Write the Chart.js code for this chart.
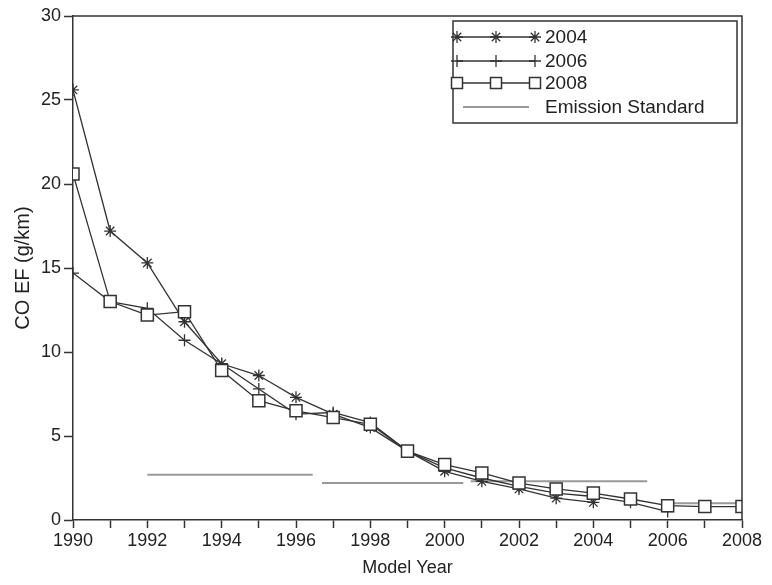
<!DOCTYPE html>
<html>
<head>
<meta charset="utf-8">
<script src="https://cdn.jsdelivr.net/npm/chart.js@4/dist/chart.umd.min.js"></script>
<style>
html,body{margin:0;padding:0;background:#fff;}
#wrap{width:772px;height:585px;position:relative;}
</style>
</head>
<body>
<div id="wrap"><canvas id="c" width="772" height="585"></canvas></div>
<script>
// ---- Data ----
const years2004 = [1990,1991,1992,1993,1994,1995,1996,1997,1998,1999,2000,2001,2002,2003,2004];
const values2004 = [25.6,17.2,15.3,11.8,9.3,8.6,7.3,6.3,5.5,4.1,2.9,2.3,1.85,1.3,1.05];

const years2006 = [1990,1991,1992,1993,1994,1995,1996,1997,1998,1999,2000,2001,2002,2003,2004,2005,2006];
const values2006 = [14.7,13.0,12.6,10.7,9.3,7.8,6.3,6.4,5.8,4.1,3.1,2.5,2.0,1.6,1.4,1.05,0.5];

const years2008 = [1990,1991,1992,1993,1994,1995,1996,1997,1998,1999,2000,2001,2002,2003,2004,2005,2006,2007,2008];
const values2008 = [20.6,13.0,12.2,12.4,8.9,7.1,6.5,6.1,5.7,4.1,3.3,2.8,2.2,1.85,1.6,1.25,0.85,0.8,0.8];

const stdStart = [1992.0, 1996.7, 2000.7, 2006.0];
const stdEnd   = [1996.45, 2000.5, 2005.45, 2008.0];
const stdLevel = [2.7, 2.2, 2.3, 1.0];

const xTicks = [1990,1992,1994,1996,1998,2000,2002,2004,2006,2008];
const yTicks = [0,5,10,15,20,25,30];

const seriesNames = ['2004','2006','2008','Emission Standard'];

// ---- Build ----
const pts = (xs, ys) => xs.map((x,i)=>({x:x, y:ys[i]}));
const stdPts = [];
stdStart.forEach((s,i)=>{
  stdPts.push({x:s, y:stdLevel[i]});
  stdPts.push({x:stdEnd[i], y:stdLevel[i]});
  if (i < stdStart.length-1) stdPts.push({x:(stdEnd[i]+stdStart[i+1])/2, y:null});
});

const LINE = '#333333';
const TXT = '#222222';
const FONT = 'Liberation Sans, Arial, sans-serif';

function drawMarker(ctx, style, x, y) {
  ctx.save();
  ctx.strokeStyle = LINE;
  ctx.lineWidth = 1.3;
  if (style === 'star') {
    const r = 6;
    ctx.beginPath();
    ctx.moveTo(x, y-r); ctx.lineTo(x, y+r);
    ctx.moveTo(x-r, y); ctx.lineTo(x+r, y);
    const d = r*0.707;
    ctx.moveTo(x-d, y-d); ctx.lineTo(x+d, y+d);
    ctx.moveTo(x-d, y+d); ctx.lineTo(x+d, y-d);
    ctx.stroke();
  } else if (style === 'cross') {
    const r = 6;
    ctx.beginPath();
    ctx.moveTo(x, y-r); ctx.lineTo(x, y+r);
    ctx.moveTo(x-r, y); ctx.lineTo(x+r, y);
    ctx.stroke();
  } else if (style === 'rect') {
    const s = 5.5;
    ctx.fillStyle = '#fff';
    ctx.lineWidth = 1.5;
    ctx.fillRect(x-s, y-s, 2*s, 2*s);
    ctx.strokeRect(x-s, y-s, 2*s, 2*s);
  }
  ctx.restore();
}

const framePlugin = {
  id: 'frame',
  afterDatasetsDraw(chart) {
    const {ctx, chartArea: a} = chart;
    ctx.save();
    ctx.strokeStyle = LINE;
    ctx.lineWidth = 1.5;
    ctx.beginPath();
    ctx.moveTo(a.left, a.top); ctx.lineTo(a.right, a.top); ctx.lineTo(a.right, a.bottom);
    ctx.stroke();
    ctx.restore();
  },
  afterDraw(chart) {
    const {ctx, chartArea: a} = chart;
    const bx = a.right - 289, by = a.top + 5, bw = 284, bh = 102;
    ctx.save();
    ctx.fillStyle = '#fff';
    ctx.fillRect(bx, by, bw, bh);
    ctx.strokeStyle = LINE;
    ctx.lineWidth = 1.5;
    ctx.strokeRect(bx, by, bw, bh);
    const rows = [16, 40, 62, 86];
    const styles = ['star','cross','rect', null];
    ctx.font = '19px ' + FONT;
    ctx.textBaseline = 'middle';
    ctx.fillStyle = TXT;
    rows.forEach((ry, i) => {
      const y = by + ry;
      const x0 = bx + 4, x1 = bx + 82;
      ctx.beginPath();
      if (styles[i]) {
        ctx.strokeStyle = LINE; ctx.lineWidth = 1.3;
        ctx.moveTo(x0, y); ctx.lineTo(x1, y);
        ctx.stroke();
        [x0, (x0+x1)/2, x1].forEach(px => drawMarker(ctx, styles[i], px, y));
      } else {
        ctx.strokeStyle = '#999'; ctx.lineWidth = 2;
        ctx.moveTo(bx + 10, y); ctx.lineTo(bx + 76, y);
        ctx.stroke();
      }
      ctx.fillText(seriesNames[i], bx + 92, y + 1);
    });
    ctx.restore();
  }
};

new Chart(document.getElementById('c'), {
  type: 'line',
  data: {
    datasets: [
      { label: seriesNames[3], data: stdPts, borderColor: '#999999', borderWidth: 2,
        pointRadius: 0, spanGaps: false, order: 3 },
      { label: seriesNames[1], data: pts(years2006, values2006), borderColor: LINE, borderWidth: 1.3,
        pointStyle: 'cross', pointRadius: 6, pointBorderColor: LINE, pointBorderWidth: 1.3, order: 2 },
      { label: seriesNames[0], data: pts(years2004, values2004), borderColor: LINE, borderWidth: 1.3,
        pointStyle: 'star', pointRadius: 6, pointBorderColor: LINE, pointBorderWidth: 1.3, order: 1 },
      { label: seriesNames[2], data: pts(years2008, values2008), borderColor: LINE, borderWidth: 1.3,
        pointStyle: 'rect', pointRadius: 8.5, pointBackgroundColor: '#fff', pointBorderColor: LINE,
        pointBorderWidth: 1.5, order: 0 }
    ]
  },
  options: {
    responsive: false,
    animation: false,
    layout: { padding: { top: 16, right: 30, left: 0, bottom: 0 } },
    plugins: { legend: { display: false }, tooltip: { enabled: false } },
    elements: { line: { tension: 0 } },
    scales: {
      x: {
        type: 'linear', min: 1990, max: 2008,
        afterFit: s => { s.height = 65; },
        afterBuildTicks: s => { const t=[]; for (let v=1990; v<=2008; v++) t.push({value:v}); s.ticks = t; },
        ticks: {
          autoSkip: false, maxRotation: 0, padding: 2, color: TXT,
          font: { family: FONT, size: 18 },
          callback: v => xTicks.includes(v) ? String(v) : ''
        },
        grid: { drawOnChartArea: false, drawTicks: true, tickLength: 8, tickColor: LINE, tickWidth: 1.5 },
        border: { display: true, color: LINE, width: 1.5 },
        title: { display: true, text: 'Model Year', color: TXT, font: { family: FONT, size: 18 },
                 padding: { top: 0, bottom: 6 } }
      },
      y: {
        type: 'linear', min: 0, max: 30,
        afterFit: s => { s.width = 73; },
        afterBuildTicks: s => { s.ticks = yTicks.map(v=>({value:v})); },
        ticks: { padding: 3, color: TXT, font: { family: FONT, size: 18 } },
        grid: { drawOnChartArea: false, drawTicks: true, tickLength: 9, tickColor: LINE, tickWidth: 1.5 },
        border: { display: true, color: LINE, width: 1.5 },
        title: { display: true, text: 'CO EF (g/km)', color: TXT, font: { family: FONT, size: 20 },
                 padding: { top: 11, bottom: 0 } }
      }
    }
  },
  plugins: [framePlugin]
});
</script>
</body>
</html>
